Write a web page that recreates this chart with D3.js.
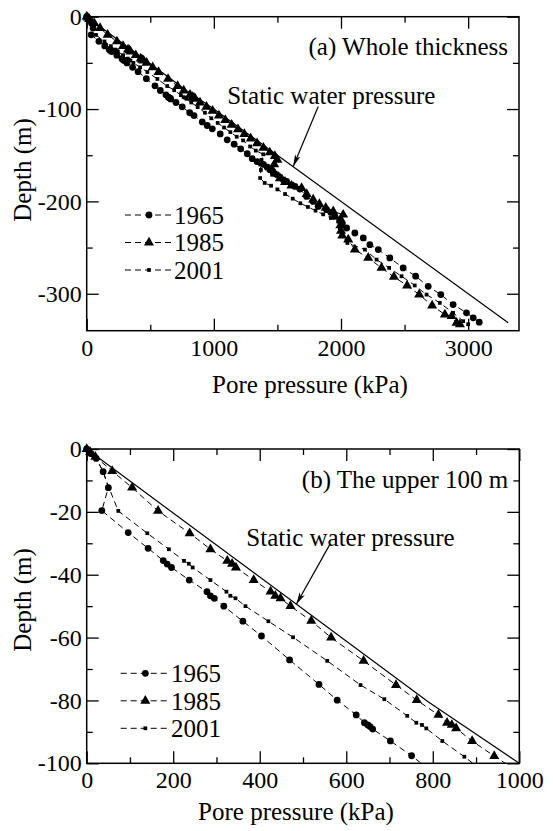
<!DOCTYPE html>
<html>
<head>
<meta charset="utf-8">
<script src="https://cdn.jsdelivr.net/npm/d3@7"></script>
<style>
  body { margin: 0; background: #fff; }
  svg text { font-family: "Liberation Serif", "Times New Roman", serif !important; fill: #000; }
</style>
</head>
<body>
<div id="chart-area"></div>
<script>
const WIDTH = 553
const HEIGHT = 831
const FONT = '"Liberation Serif", "Times New Roman", serif'

// series: [pore pressure (kPa), depth (m)]
const years = ["1965", "1985", "2001"]

const data1965 = [[0,0],[10,-1.5],[22,-3],[38,-7.2],[50,-12.3],[35,-19.6],[96,-26.6],[142,-31.6],[177,-35.5],[186,-36.6],[196,-37.7],[237,-41.7],[278,-45.4],[286,-46.7],[295,-47.5],[317,-50],[361,-54.8],[404,-59.5],[469,-67.1],[537,-74.9],[579,-79.9],[623,-84.6],[642,-87.1],[650,-87.8],[655,-88.3],[661,-89.1],[702,-92.9],[751,-97.6],[810,-104],[844,-107],[909,-114],[948,-117.8],[988,-121.4],[1050,-127],[1105,-133.3],[1160,-138],[1211,-143],[1263,-148.4],[1302,-153.8],[1340,-157],[1390,-160],[1420,-163],[1441,-165.7],[1467,-169.3],[1494,-171],[1520,-173.6],[1546,-176.6],[1572,-178.4],[1612,-182],[1638,-183.8],[1677,-186.6],[1729,-194.6],[1780,-200],[1821,-205.4],[1887,-209],[1920,-212],[1952,-216.2],[1990,-220],[2010,-224],[2044,-228.8],[2109,-234.2],[2175,-239.6],[2227,-246.8],[2293,-252.2],[2384,-261.2],[2489,-272],[2587,-281],[2686,-291.9],[2785,-300.9],[2882,-311.7],[2987,-320.6],[3040,-326],[3087,-330.8]]

const data1985 = [[0,0],[8,-1],[20,-2.5],[59,-7],[105,-12.3],[165,-19.7],[238,-26.8],[286,-31.9],[325,-35.6],[336,-36.5],[345,-37.7],[386,-41.7],[425,-45.4],[436,-46.7],[448,-47.5],[471,-50],[519,-54.7],[565,-60],[640,-67.4],[715,-75.1],[763,-79.9],[813,-84.6],[833,-87.1],[844,-87.8],[854,-88.9],[891,-92.9],[942,-97.7],[990,-102],[1040,-107],[1090,-112],[1140,-117],[1190,-122],[1240,-127],[1290,-132],[1340,-137],[1390,-142],[1440,-147],[1480,-151],[1500,-155],[1475,-160],[1455,-165],[1480,-170],[1520,-175],[1560,-179],[1610,-183],[1690,-185.5],[1730,-192],[1781,-198],[1830,-203],[1880,-207],[1939,-210.8],[2017,-214.4],[2000,-220],[1995,-226],[2000,-232],[2010,-237],[2057,-241.4],[2109,-252.2],[2214,-261.2],[2319,-272],[2416,-281.7],[2520,-291.1],[2615,-300.9],[2717,-312.8],[2817,-322.5],[2870,-324.3],[2909,-331.5],[2935,-333]]

const data2001 = [[0,0],[10,-1.5],[22,-3],[38,-7.2],[52,-12.5],[73,-19.7],[140,-26.8],[190,-31.9],[225,-35.6],[236,-36.5],[245,-37.7],[286,-41.7],[323,-45.4],[332,-46.7],[344,-47.5],[367,-50],[420,-54.8],[477,-59.9],[556,-67.4],[633,-75.1],[688,-79.6],[741,-84.9],[762,-87.1],[775,-87.8],[785,-88.9],[822,-92.9],[873,-97.9],[930,-104],[980,-110],[1030,-115],[1080,-120],[1130,-125],[1180,-130],[1230,-134],[1285,-140.5],[1330,-145],[1389,-149],[1375,-155],[1364,-160],[1370,-166],[1364,-174.7],[1400,-180],[1450,-183],[1500,-187],[1560,-192],[1620,-197],[1680,-202],[1740,-206],[1800,-210],[1860,-214],[1920,-218],[1980,-222],[1991,-230.6],[2005,-236],[2050,-245],[2188,-252.2],[2280,-263],[2379,-272],[2476,-281],[2580,-291],[2673,-300.9],[2777,-309.9],[2882,-320.6],[2961,-329.7],[3000,-333]]

const staticLine = [[0,0],[790,-80.5],[1000,-100],[3315,-331.5]]

const seriesData = { "1965": data1965, "1985": data1985, "2001": data2001 }
const symbols = { "1965": d3.symbolCircle, "1985": d3.symbolTriangle, "2001": d3.symbolSquare }
const symbolSize = { "1965": 36, "1985": 44, "2001": 14 }

// tick values
const xTicksA = [0, 1000, 2000, 3000]
const xMinorA = [500, 1500, 2500]
const yTicksA = [0, -100, -200, -300]
const yMinorA = [-50, -150, -250]
const xTicksB = [0, 200, 400, 600, 800, 1000]
const xMinorB = [100, 300, 500, 700, 900]
const yTicksB = [0, -20, -40, -60, -80, -100]
const yMinorB = [-10, -30, -50, -70, -90]

const panels = [
  { id: "a", box: { l: 86.7, r: 519, t: 16.7, b: 330.7 }, xDom: [0, 3400], yDom: [0, -340],
    xT: xTicksA, xM: xMinorA, yT: yTicksA, yM: yMinorA,
    title: "(a) Whole thickness", titleY: 55,
    note: [1105, -94.4], arrow: [[1821, -97.3], [1624, -162.2]],
    legend: { x1: 125, x2: 173, y: 215, gap: 27.5 },
    xTitle: { x: 310, y: 393 }, yTitle: { x: 31, y: 170 } },
  { id: "b", box: { l: 86.7, r: 519.3, t: 449, b: 763.3 }, xDom: [0, 1000], yDom: [0, -100],
    xT: xTicksB, xM: xMinorB, yT: yTicksB, yM: yMinorB,
    title: "(b) The upper 100 m", titleY: 488,
    note: [369, -30.9], arrow: [[561.5, -30.5], [484.6, -49.4]],
    legend: { x1: 120.7, x2: 170, y: 673.3, gap: 27.5 },
    xTitle: { x: 296, y: 820 }, yTitle: { x: 31, y: 600 } }
]

const svg = d3.select("#chart-area")
  .append("svg")
  .attr("width", WIDTH)
  .attr("height", HEIGHT)
  .attr("font-family", FONT)

svg.append("defs").append("marker")
  .attr("id", "arrowhead")
  .attr("viewBox", "0 0 12 6")
  .attr("refX", 12)
  .attr("refY", 3)
  .attr("markerWidth", 12)
  .attr("markerHeight", 6)
  .attr("markerUnits", "userSpaceOnUse")
  .attr("orient", "auto")
  .append("path")
  .attr("d", "M0,0 L12,3 L0,6 L3,3 Z")
  .attr("fill", "#000")

panels.forEach(p => {
  const x = d3.scaleLinear().domain(p.xDom).range([p.box.l, p.box.r])
  const y = d3.scaleLinear().domain(p.yDom).range([p.box.t, p.box.b])
  const g = svg.append("g")

  g.append("clipPath").attr("id", "clip-" + p.id)
    .append("rect")
    .attr("x", p.box.l).attr("y", p.box.t)
    .attr("width", p.box.r - p.box.l).attr("height", p.box.b - p.box.t)

  // axes: major and minor ticks, pointing inward on all four sides
  const fmt = d => String(d)
  const addAxis = (axis, tf) => {
    const a = g.append("g").attr("transform", tf).call(axis)
    a.attr("font-family", FONT).attr("font-size", 24)
    a.select(".domain").remove()
    a.selectAll("line").attr("stroke", "#000").attr("stroke-width", 1.3)
    a.selectAll("text").attr("font-family", FONT).style("font-size", "24px")
    return a
  }
  addAxis(d3.axisBottom(x).tickValues(p.xT).tickSize(-12).tickPadding(8).tickFormat(fmt), `translate(0,${p.box.b})`)
  addAxis(d3.axisBottom(x).tickValues(p.xM).tickSize(-6).tickFormat(""), `translate(0,${p.box.b})`)
  addAxis(d3.axisTop(x).tickValues(p.xT).tickSize(-12).tickFormat(""), `translate(0,${p.box.t})`)
  addAxis(d3.axisTop(x).tickValues(p.xM).tickSize(-6).tickFormat(""), `translate(0,${p.box.t})`)
  addAxis(d3.axisLeft(y).tickValues(p.yT).tickSize(-12).tickPadding(5).tickFormat(fmt), `translate(${p.box.l},0)`)
  addAxis(d3.axisLeft(y).tickValues(p.yM).tickSize(-6).tickFormat(""), `translate(${p.box.l},0)`)
  addAxis(d3.axisRight(y).tickValues(p.yT).tickSize(-12).tickFormat(""), `translate(${p.box.r},0)`)
  addAxis(d3.axisRight(y).tickValues(p.yM).tickSize(-6).tickFormat(""), `translate(${p.box.r},0)`)

  g.append("rect")
    .attr("x", p.box.l).attr("y", p.box.t)
    .attr("width", p.box.r - p.box.l).attr("height", p.box.b - p.box.t)
    .attr("fill", "none").attr("stroke", "#000").attr("stroke-width", 1.5)

  const line = d3.line().x(d => x(d[0])).y(d => y(d[1]))

  // static water pressure
  g.append("path")
    .datum(staticLine)
    .attr("clip-path", `url(#clip-${p.id})`)
    .attr("d", line)
    .attr("fill", "none").attr("stroke", "#000").attr("stroke-width", 1.2)

  const inside = d => d[0] <= p.xDom[1] && d[1] >= p.yDom[1]

  years.forEach(yr => {
    g.append("path")
      .datum(seriesData[yr])
      .attr("clip-path", `url(#clip-${p.id})`)
      .attr("d", line)
      .attr("fill", "none").attr("stroke", "#000").attr("stroke-width", 1)
      .attr("stroke-dasharray", "6,4")

    g.selectAll(".pt-" + yr)
      .data(seriesData[yr].filter(inside))
      .enter()
      .append("path")
      .attr("d", d3.symbol().type(symbols[yr]).size(symbolSize[yr]))
      .attr("transform", d => `translate(${x(d[0])},${y(d[1])})`)
      .attr("fill", "#000")
  })

  const label = (sel) => sel.attr("font-family", FONT).style("font-size", "25px")

  // legend
  years.forEach((yr, i) => {
    const ly = p.legend.y + i * p.legend.gap
    g.append("line")
      .attr("x1", p.legend.x1).attr("x2", p.legend.x2)
      .attr("y1", ly).attr("y2", ly)
      .attr("stroke", "#000").attr("stroke-width", 1)
      .attr("stroke-dasharray", "6,4")
    g.append("path")
      .attr("d", d3.symbol().type(symbols[yr]).size(symbolSize[yr]))
      .attr("transform", `translate(${(p.legend.x1 + p.legend.x2) / 2},${ly})`)
      .attr("fill", "#000")
    g.append("text")
      .attr("x", p.legend.x2 + 1).attr("y", ly)
      .attr("dy", "0.35em")
      .call(label)
      .text(yr)
  })

  // labels
  g.append("text")
    .attr("x", p.box.r - 11).attr("y", p.titleY)
    .attr("text-anchor", "end")
    .call(label)
    .text(p.title)

  g.append("text")
    .attr("x", x(p.note[0])).attr("y", y(p.note[1]))
    .call(label)
    .text("Static water pressure")

  g.append("line")
    .attr("x1", x(p.arrow[0][0])).attr("y1", y(p.arrow[0][1]))
    .attr("x2", x(p.arrow[1][0])).attr("y2", y(p.arrow[1][1]))
    .attr("stroke", "#000").attr("stroke-width", 1.2)
    .attr("marker-end", "url(#arrowhead)")

  g.append("text")
    .attr("x", p.xTitle.x).attr("y", p.xTitle.y)
    .attr("text-anchor", "middle")
    .call(label)
    .text("Pore pressure (kPa)")

  g.append("text")
    .attr("transform", `translate(${p.yTitle.x},${p.yTitle.y}) rotate(-90)`)
    .attr("text-anchor", "middle")
    .call(label)
    .text("Depth (m)")
})
</script>
</body>
</html>
